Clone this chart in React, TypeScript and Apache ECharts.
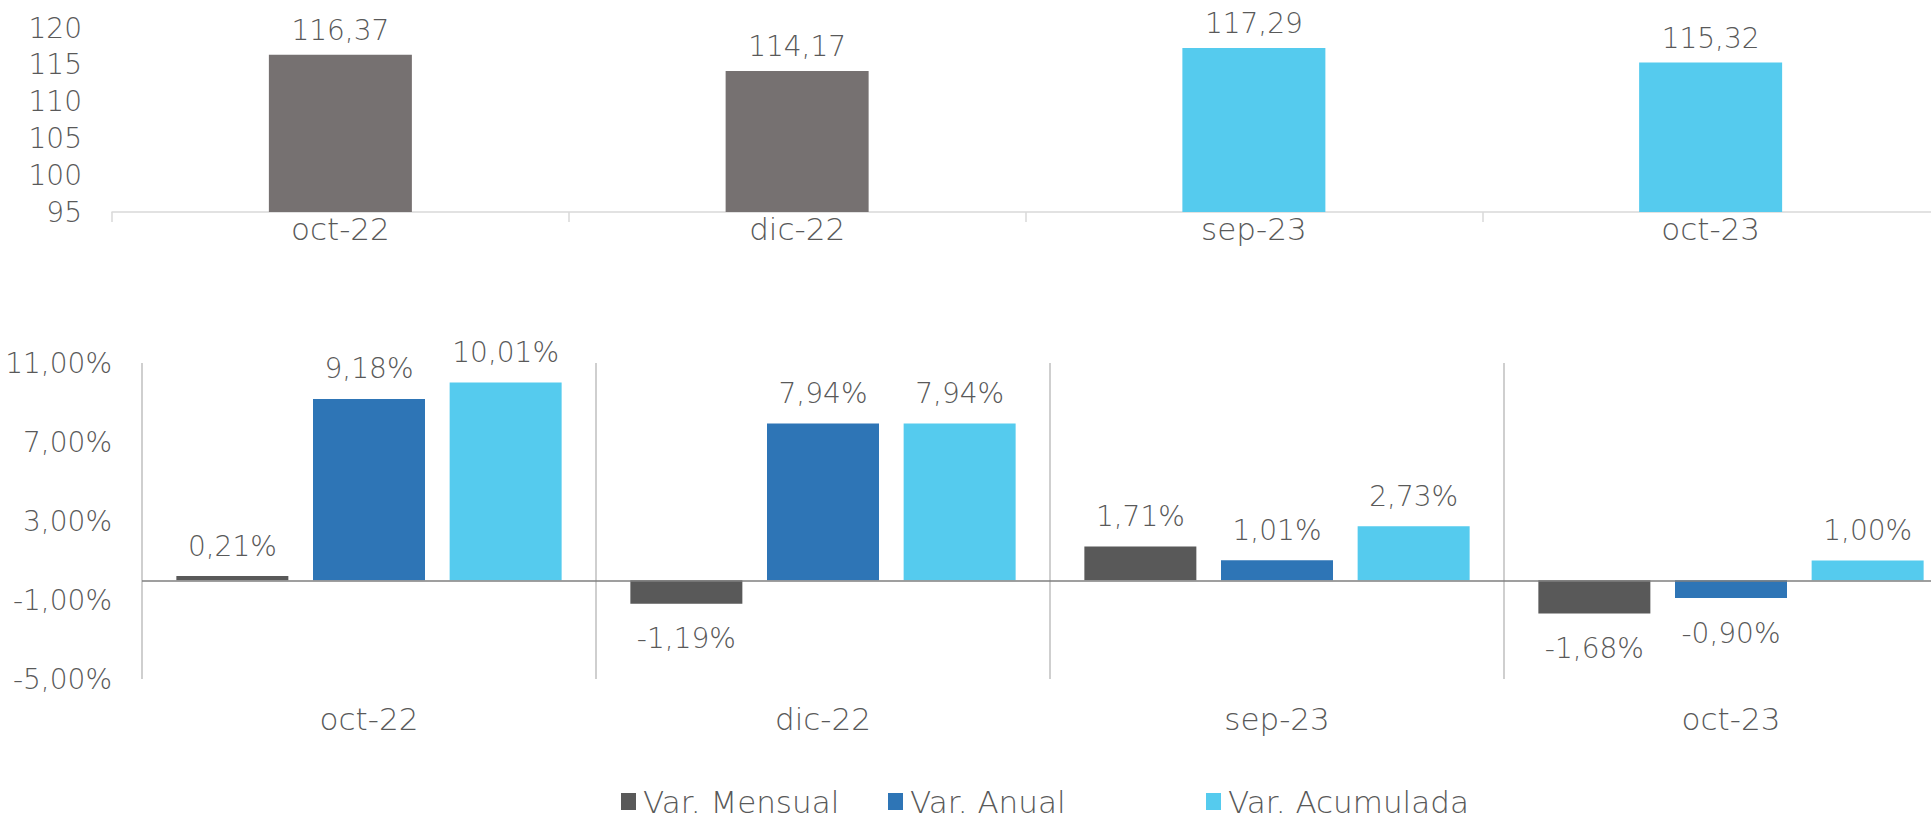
import React, { useEffect, useRef } from "react";
import * as echarts from "echarts";

const categories = ["oct-22", "dic-22", "sep-23", "oct-23"];
const indexValues = [116.37, 114.17, 117.29, 115.32];
const indexColors = ["#767171", "#767171", "#55CBEE", "#55CBEE"];
const seriesNames = ["Var. Mensual", "Var. Anual", "Var. Acumulada"];
const varMensual = [0.21, -1.19, 1.71, -1.68];
const varAnual = [9.18, 7.94, 1.01, -0.9];
const varAcumulada = [10.01, 7.94, 2.73, 1.0];
const seriesColors = ["#595959", "#2E75B6", "#55CBEE"];
const topTicks = { min: 95, max: 120, interval: 5 };
const bottomTicks = { min: -5, max: 11, interval: 4 };
const legendLefts = [616, 883, 1201];

const FONT = "DejaVu Sans";
const TEXT = "#595959";
const FS = 28;
const FS_CAT = 31;

const pct = (v: number) => v.toFixed(2).replace(".", ",") + "%";
const dec = (v: number) => v.toFixed(2).replace(".", ",");

export default function App() {
  const ref = useRef<HTMLDivElement>(null);
  useEffect(() => {
    if (!ref.current) return;
    const chart = echarts.init(ref.current, null, { renderer: "svg" });
    const txt = { color: TEXT, fontFamily: FONT, fontSize: FS, fontWeight: 300 as any };
    const catTxt = { ...txt, fontSize: FS_CAT };
    const bottomSeries = [varMensual, varAnual, varAcumulada].map((arr, i) => ({
      name: seriesNames[i],
      type: "bar",
      xAxisIndex: 1,
      yAxisIndex: 1,
      barWidth: 112,
      barGap: "22%",
      itemStyle: { color: seriesColors[i] },
      data: arr.map((v) => ({
        value: v,
        label: { position: v < 0 ? "bottom" : "top", distance: v < 0 ? 21 : 16 },
      })),
      label: {
        show: true,
        formatter: (p: any) => pct(p.value),
        ...txt,
      },
      ...(i === 0
        ? {
            markLine: {
              silent: true,
              symbol: "none",
              label: { show: false },
              lineStyle: { color: "#7F7F7F", type: "solid", width: 1.5 },
              data: [{ yAxis: 0 }],
              z: 5,
            },
          }
        : {}),
    }));

    chart.setOption({
      animation: false,
      backgroundColor: "#ffffff",
      textStyle: { fontFamily: FONT },
      grid: [
        { left: 112, top: 28, width: 1827, height: 184, outerBoundsMode: "none", containLabel: false },
        { left: 142, top: 363, width: 1816, height: 316, outerBoundsMode: "none", containLabel: false },
      ],
      legend: seriesNames.map((name, i) => ({
        left: legendLefts[i],
        top: 781,
        itemWidth: 15,
        itemHeight: 17,
        icon: "rect",
        data: [name],
        textStyle: { ...catTxt, padding: [0, 0, 0, 2] },
      })),
      xAxis: [
        {
          type: "category",
          gridIndex: 0,
          data: categories,
          axisLine: { lineStyle: { color: "#D9D9D9", width: 1.5 } },
          axisTick: { show: true, length: 10, lineStyle: { color: "#D9D9D9", width: 1.5 } },
          axisLabel: { ...catTxt, margin: 1 },
        },
        {
          type: "category",
          gridIndex: 1,
          data: categories,
          axisLine: { show: false, onZero: false },
          axisTick: { show: false },
          splitLine: { show: true, lineStyle: { color: "#BFBFBF", width: 1.5 } },
          axisLabel: { ...catTxt, margin: 24 },
        },
      ],
      yAxis: [
        {
          type: "value",
          gridIndex: 0,
          ...topTicks,
          axisLine: { show: false },
          axisTick: { show: false },
          splitLine: { show: false },
          axisLabel: { ...txt, margin: 30 },
        },
        {
          type: "value",
          gridIndex: 1,
          ...bottomTicks,
          axisLine: { show: false },
          axisTick: { show: false },
          splitLine: { show: false },
          axisLabel: { ...txt, margin: 30, formatter: (v: number) => pct(v) },
        },
      ],
      series: [
        {
          name: "Índice",
          type: "bar",
          xAxisIndex: 0,
          yAxisIndex: 0,
          barWidth: 143,
          data: indexValues.map((v, i) => ({ value: v, itemStyle: { color: indexColors[i] } })),
          label: {
            show: true,
            position: "top",
            distance: 10,
            formatter: (p: any) => dec(p.value),
            ...txt,
          },
        },
        ...bottomSeries,
      ],
    } as any);
    return () => chart.dispose();
  }, []);
  return (
    <div
      ref={ref}
      style={{ position: "fixed", left: 0, top: 0, width: 1931, height: 819, background: "#fff" }}
    />
  );
}
